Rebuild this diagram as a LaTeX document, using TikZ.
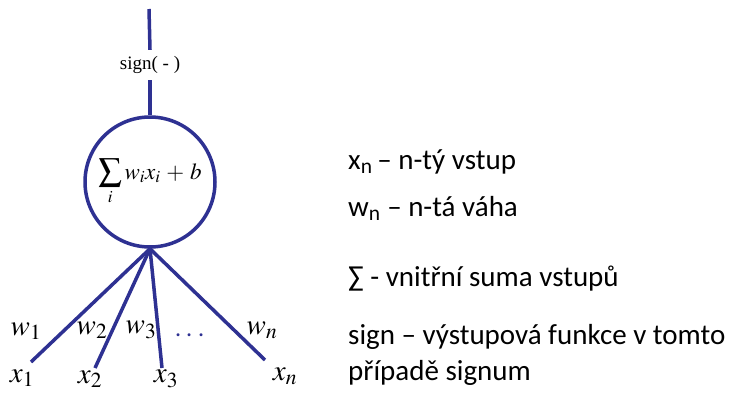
\documentclass[tikz,border=0pt]{standalone}
\usepackage{mathptmx}
\usepackage{fontspec}
\setmainfont{Liberation Serif}
\newfontfamily\calibri{Carlito}
\definecolor{neuronblue}{RGB}{46,49,146}
\tikzset{
  wire/.style={draw=neuronblue, line width=3.5pt},
  weight/.style={font=\fontsize{29}{31}\selectfont, inner sep=0pt},
  legend/.style={anchor=base west, font=\calibri\fontsize{29}{32}\selectfont, inner sep=0pt},
}
\begin{document}
\begin{tikzpicture}[x=1pt,y=-1pt]
\useasboundingbox (0,0) rectangle (734,394);

\coordinate (out) at (149,9);
\node[minimum height=30pt, inner sep=0pt, font=\fontsize{19}{21}\selectfont] (sign) at (150,65) {sign( - )};
\node[circle, wire, minimum size=130pt, inner sep=0pt, font=\fontsize{23}{25}\selectfont] (neuron) at (150,182) {$\displaystyle\sum_i w_i x_i \,+\, b$};
\draw[wire] (out) -- (sign.north);
\draw[wire] (sign.south) -- (neuron.north);

\coordinate (in1) at (31,362);
\coordinate (in2) at (95,368);
\coordinate (in3) at (162,368);
\coordinate (inn) at (265,360);
\foreach \i in {in1,in2,in3,inn}
  \draw[wire] (neuron.south) -- (\i);

\node[weight] (w1) at (26,331) {$w_1$};
\node[weight] (w2) at (92,330) {$w_2$};
\node[weight] (w3) at (141,330) {$w_3$};
\node[weight, text=neuronblue] (dots) at (190,336) {$\cdots$};
\node[weight] (wn) at (262,330) {$w_n$};
\node[weight] (x1) at (22,378) {$x_1$};
\node[weight] (x2) at (90,379) {$x_2$};
\node[weight] (x3) at (166,379) {$x_3$};
\node[weight] (xn) at (285,376) {$x_n$};

\node[legend] (l1) at (348,169) {x\textsubscript{n}\,– n-tý vstup};
\node[legend] (l2) at (348,216) {w\textsubscript{n} – n-tá váha};
\node[legend] (l3) at (348,286) {∑ - vnitřní suma vstupů};
\node[legend] (l4) at (348,344) {sign – výstupová funkce v tomto};
\node[legend] (l5) at (348,380) {případě signum};
\end{tikzpicture}
\end{document}
